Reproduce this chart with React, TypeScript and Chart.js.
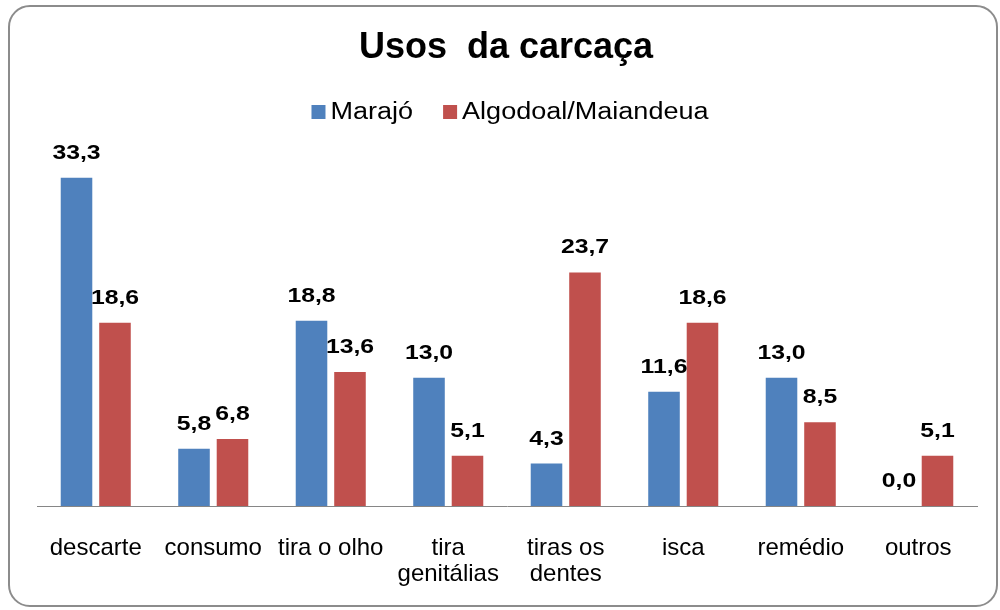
import { useEffect, useRef } from "react";
import { Chart, registerables } from "chart.js";

Chart.register(...registerables);

const chartTitle = "Usos  da carcaça";
const categories: string[][] = [
  ["descarte"],
  ["consumo"],
  ["tira o olho"],
  ["tira", "genitálias"],
  ["tiras os", "dentes"],
  ["isca"],
  ["remédio"],
  ["outros"],
];
const seriesNames = ["Marajó", "Algodoal/Maiandeua"];
const marajo = [33.3, 5.8, 18.8, 13.0, 4.3, 11.6, 13.0, 0.0];
const algodoal = [18.6, 6.8, 13.6, 5.1, 23.7, 18.6, 8.5, 5.1];
const seriesColors = ["#4F81BD", "#C0504D"];

const FONT = "'Liberation Sans', Arial, Helvetica, sans-serif";

const fmt = (v: number) => v.toFixed(1).replace(".", ",");

function drawScaled(ctx: CanvasRenderingContext2D, text: string, x: number, y: number, sx: number) {
  ctx.save();
  ctx.translate(x, y);
  ctx.scale(sx, 1);
  ctx.fillText(text, 0, 0);
  ctx.restore();
}

const decorPlugin = {
  id: "decor",
  afterDatasetsDraw(chart: any) {
    const ctx = chart.ctx as CanvasRenderingContext2D;
    ctx.save();
    // data labels
    ctx.font = `bold 21px ${FONT}`;
    ctx.fillStyle = "#000";
    ctx.textAlign = "center";
    ctx.textBaseline = "alphabetic";
    chart.data.datasets.forEach((ds: any, i: number) => {
      const meta = chart.getDatasetMeta(i);
      meta.data.forEach((bar: any, j: number) => {
        const v = ds.data[j] as number;
        drawScaled(ctx, fmt(v), bar.x, bar.y - 19, 1.18);
      });
    });

    // title
    ctx.font = `bold 36px ${FONT}`;
    ctx.textAlign = "center";
    ctx.fillText(chartTitle, 506, 58);

    // legend
    const sx = 1.15;
    ctx.font = `23.5px ${FONT}`;
    const box = 14;
    const gapText = 5;
    const gapItems = 30;
    const widths = seriesNames.map((n) => ctx.measureText(n).width * sx);
    const total =
      widths.reduce((a, w) => a + box + gapText + w, 0) + gapItems * (seriesNames.length - 1);
    let x = 510 - total / 2;
    ctx.textAlign = "left";
    seriesNames.forEach((n, i) => {
      ctx.fillStyle = seriesColors[i];
      ctx.fillRect(x, 105, box, box);
      ctx.fillStyle = "#000";
      drawScaled(ctx, n, x + box + gapText, 119, sx);
      x += box + gapText + widths[i] + gapItems;
    });
    ctx.restore();
  },
};

export default function App() {
  const ref = useRef<HTMLCanvasElement | null>(null);

  useEffect(() => {
    if (!ref.current) return;
    const chart = new Chart(ref.current, {
      type: "bar",
      data: {
        labels: categories,
        datasets: [
          {
            label: seriesNames[0],
            data: marajo,
            backgroundColor: seriesColors[0],
            categoryPercentage: 0.655,
            barPercentage: 0.82,
          },
          {
            label: seriesNames[1],
            data: algodoal,
            backgroundColor: seriesColors[1],
            categoryPercentage: 0.655,
            barPercentage: 0.82,
          },
        ],
      },
      options: {
        animation: false,
        responsive: false,
        maintainAspectRatio: false,
        layout: { padding: { left: 37, right: 23, top: 161, bottom: 0 } },
        plugins: {
          legend: { display: false },
          title: { display: false },
          tooltip: { enabled: false },
        },
        scales: {
          x: {
            grid: { display: false },
            border: { display: true, color: "#868686", width: 1 },
            ticks: {
              color: "#000",
              font: { family: FONT, size: 24, lineHeight: 26 / 24 },
              padding: 21,
              maxRotation: 0,
              autoSkip: false,
            },
            afterFit: (scale: any) => {
              scale.height = 104;
            },
          },
          y: {
            display: false,
            min: 0,
            max: 35,
          },
        },
      },
      plugins: [decorPlugin],
    });
    return () => chart.destroy();
  }, []);

  return (
    <div style={{ position: "fixed", left: 0, top: 0, width: 1000, height: 610, background: "#fff" }}>
      <div
        style={{
          position: "absolute",
          left: 8,
          top: 5,
          width: 990,
          height: 602,
          border: "2px solid #8c8c8c",
          borderRadius: 22,
          boxSizing: "border-box",
        }}
      />
      <canvas ref={ref} width={1000} height={610} style={{ position: "absolute", left: 0, top: 0 }} />
    </div>
  );
}
